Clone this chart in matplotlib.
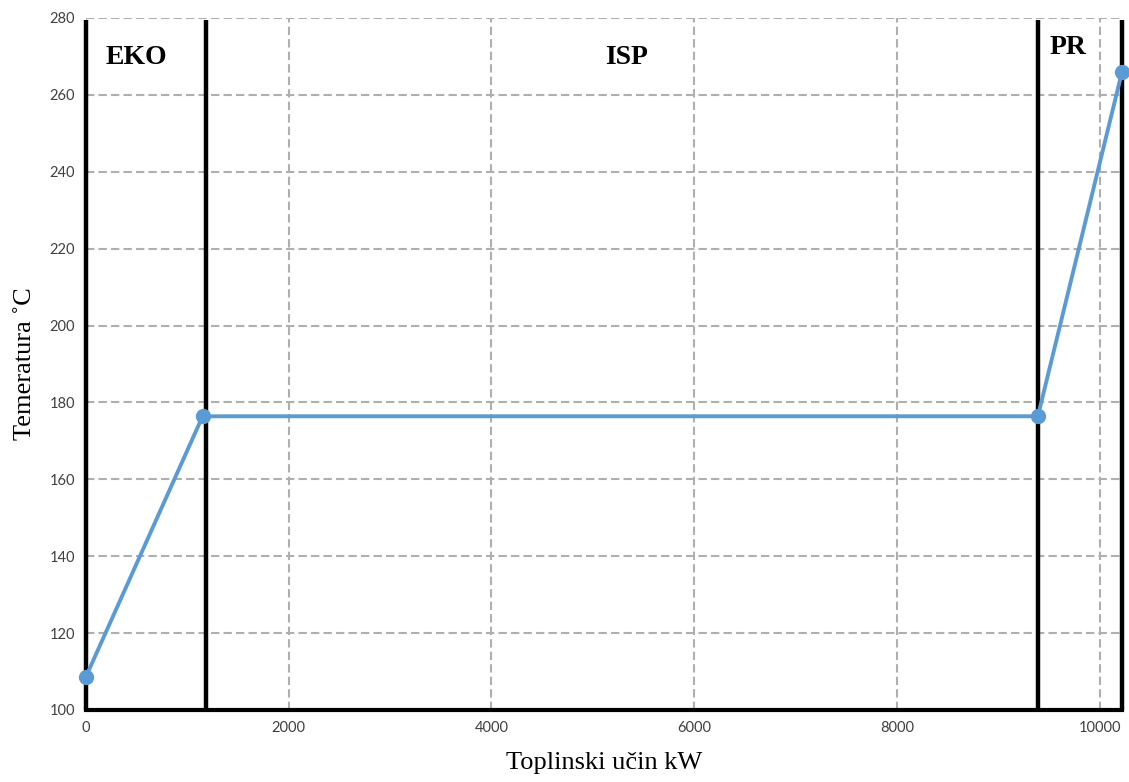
import matplotlib.pyplot as plt

# heat load (kW) vs temperature (C)
q = [0, 1150, 9390, 10220]
temp = [108.7, 176.4, 176.4, 266.0]

# section borders and names
borders = [0, 1185, 9390, 10220]
sections = ["EKO", "ISP", "PR"]
section_x = [500, 5330, 9690]
section_y = [269.8, 269.8, 272.4]

xticks = [0, 2000, 4000, 6000, 8000, 10000]
yticks = list(range(100, 281, 20))

fig = plt.figure(figsize=(11.29, 7.82), dpi=100)
ax = fig.add_axes([0.0762, 0.0921, 0.9176, 0.8849])

ax.set_xlim(0, 10220)
ax.set_ylim(100, 280)
ax.set_xticks(xticks)
ax.set_yticks(yticks)
ax.grid(True, color="#afafaf", linestyle=(0, (4, 2)), linewidth=1.5)
ax.set_axisbelow(True)

for b in borders:
    ax.plot([b, b], [100, 279.4], color="black", linewidth=3.2, zorder=3,
            solid_capstyle="butt", clip_on=False)

ax.plot(q, temp, color="#5b9bd5", linewidth=2.8, marker="o", markersize=10,
        zorder=4, clip_on=False)

for name, x, y in zip(sections, section_x, section_y):
    ax.text(x, y, name, ha="center", va="center", fontsize=20,
            fontweight="bold", family="Liberation Serif", color="black")

for s in ["top", "right", "left"]:
    ax.spines[s].set_visible(False)
ax.spines["bottom"].set_linewidth(3)
ax.spines["bottom"].set_color("black")

ax.tick_params(length=0, labelsize=10.5, labelcolor="#404040", pad=8)
for lab in ax.get_xticklabels() + ax.get_yticklabels():
    lab.set_family("Lato")

ax.set_xlabel("Toplinski učin kW", fontsize=19, family="Liberation Serif",
              labelpad=12)
ax.set_ylabel("Temeratura ˚C", fontsize=19, family="Liberation Serif",
              labelpad=10)

fig.savefig("out.png", dpi=100)
